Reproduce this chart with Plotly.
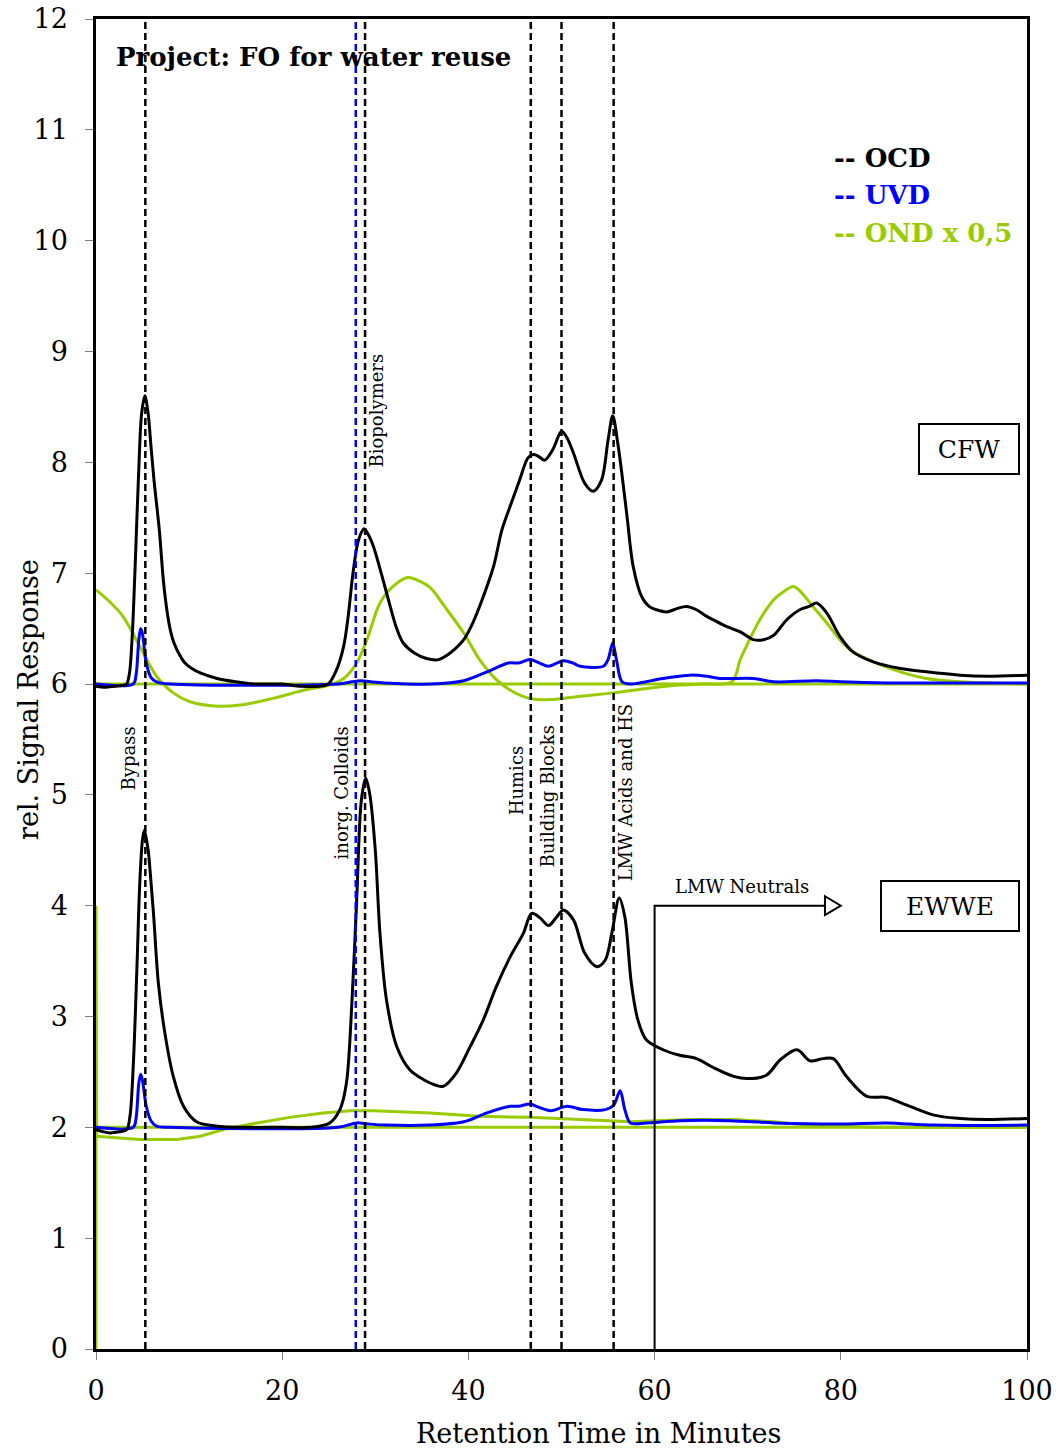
import plotly.graph_objects as go

# ---------------- data (values as plotted: CFW offset +6, EWWE offset +2) ----------------
ocd_cfw = [(0, 5.98), (1, 5.97), (2, 5.98), (3, 5.99), (3.3, 6.0), (3.6, 6.1), (3.9, 6.45), (4.2, 7.05),
           (4.55, 7.84), (4.9, 8.44), (5.25, 8.60), (5.6, 8.44), (5.9, 8.15), (6.23, 7.84), (6.8, 7.39),
           (7.23, 6.94), (7.66, 6.64), (8.0, 6.48), (8.38, 6.37), (9.0, 6.26), (9.56, 6.19), (10.3, 6.14),
           (11.2, 6.10), (13.0, 6.05), (15, 6.02), (17, 6.0), (20, 6.0),
           (22, 5.98), (24, 5.98), (24.95, 6.0), (25.8, 6.12), (26.6, 6.34), (27.1, 6.62), (27.6, 7.0),
           (28.2, 7.3), (28.8, 7.40), (29.3, 7.34), (29.8, 7.24), (30.7, 6.98), (31.6, 6.70), (32.3, 6.50),
           (33.0, 6.37), (34.2, 6.28), (35.5, 6.23), (36.8, 6.22), (37.7, 6.26), (38.6, 6.32), (39.5, 6.40),
           (40.3, 6.52), (41.2, 6.70), (42.7, 7.06), (43.6, 7.39), (44.6, 7.63), (45.5, 7.84), (46.4, 8.04),
           (47.0, 8.07), (47.6, 8.05), (48.2, 8.02), (49.1, 8.12), (50.0, 8.28), (50.6, 8.22), (51.3, 8.08),
           (52.5, 7.81), (53.4, 7.74), (54.3, 7.84), (55.0, 8.20), (55.5, 8.42), (56.1, 8.14), (57.0, 7.54),
           (57.7, 7.06), (58.6, 6.79), (59.4, 6.70), (60.2, 6.67), (61.3, 6.65), (62.4, 6.68), (63.4, 6.70),
           (64.5, 6.67), (65.6, 6.61), (66.3, 6.58), (67.7, 6.52), (69.2, 6.47), (70.6, 6.40), (71.7, 6.40),
           (72.8, 6.44), (74.2, 6.58), (75.6, 6.67), (76.6, 6.70), (77.4, 6.73), (78.5, 6.64), (79.9, 6.43),
           (81.3, 6.29), (83.5, 6.20), (86.4, 6.14), (89.2, 6.11), (92.8, 6.08), (95.7, 6.07), (100, 6.08)]

uvd_cfw = [(0, 6.0), (4.0, 6.0), (4.3, 6.08), (4.6, 6.40), (4.8, 6.50), (5.0, 6.45), (5.4, 6.19), (5.9, 6.06),
           (6.5, 6.02), (8, 6.0), (26, 6.0), (27.5, 6.02), (28.4, 6.03), (29.5, 6.02), (31, 6.01), (36, 6.0),
           (39.5, 6.03), (42, 6.11), (44.3, 6.19), (45.4, 6.19), (46.6, 6.22), (47.6, 6.19), (48.6, 6.16),
           (50.2, 6.21), (51.2, 6.19), (52.0, 6.16), (54.5, 6.16), (55.0, 6.22), (55.5, 6.37), (55.9, 6.22),
           (56.5, 6.02), (57.4, 6.0), (60.9, 6.05), (63.8, 6.08), (65.6, 6.07), (67.0, 6.05), (70.6, 6.05),
           (72.8, 6.02), (77.4, 6.03), (80, 6.02), (85, 6.01), (100, 6.01)]

ond_cfw = [(0, 6.85), (1.5, 6.74), (2.9, 6.61), (4.7, 6.34), (6.5, 6.07), (8.3, 5.92), (10.1, 5.84),
           (13.0, 5.80), (15.5, 5.81), (19.0, 5.87), (22.6, 5.95), (25.1, 5.99), (26.6, 6.05), (28.0, 6.19),
           (29.1, 6.40), (30.5, 6.73), (31.9, 6.88), (33.5, 6.96), (34.7, 6.93), (35.9, 6.87), (37.7, 6.67),
           (39.5, 6.46), (41.2, 6.22), (43.0, 6.04), (44.8, 5.93), (46.6, 5.87), (49.1, 5.86), (52.0, 5.89),
           (55.6, 5.92), (59.2, 5.96), (62.7, 5.99), (65, 6.0), (68.3, 6.02), (69.2, 6.22), (70.2, 6.40),
           (71.3, 6.58), (72.8, 6.76), (73.8, 6.83), (74.9, 6.88), (75.6, 6.84), (77.0, 6.70), (78.5, 6.55),
           (79.9, 6.40), (81.3, 6.29), (83.5, 6.20), (86.4, 6.11), (89.2, 6.05), (92.8, 6.02), (100, 6.0)]

ocd_ewwe = [(0, 1.98), (0.8, 1.96), (1.5, 1.95), (2.5, 1.96), (3.3, 1.98), (3.65, 2.10), (4.0, 2.55),
            (4.4, 3.45), (4.7, 4.20), (5.0, 4.60), (5.2, 4.68), (5.6, 4.50), (5.9, 4.22), (6.2, 3.90), (6.7, 3.30),
            (7.4, 2.85), (8.3, 2.46), (9.4, 2.19), (10.8, 2.05), (13.0, 2.01), (16, 2.0), (20, 2.0), (23, 2.0),
            (25.1, 2.04), (26.2, 2.16), (26.9, 2.40), (27.5, 3.15), (28.0, 4.05), (28.5, 4.95), (28.97, 5.15),
            (29.4, 5.01), (30.0, 4.50), (30.5, 3.75), (31.2, 3.15), (32.3, 2.73), (33.7, 2.52), (35.2, 2.43),
            (36.5, 2.38), (37.3, 2.37), (38.7, 2.49), (40.2, 2.73), (41.6, 2.97), (43.0, 3.27), (44.5, 3.54),
            (45.9, 3.75), (46.8, 3.93), (47.7, 3.89), (48.6, 3.82), (49.5, 3.90), (50.2, 3.96), (51.3, 3.87),
            (52.5, 3.57), (53.8, 3.45), (54.7, 3.51), (55.4, 3.75), (56.2, 4.07), (56.8, 3.90), (57.5, 3.30),
            (58.2, 2.97), (59.1, 2.79), (60.9, 2.70), (62.7, 2.65), (64.5, 2.62), (66.3, 2.54), (68.5, 2.46),
            (69.9, 2.44), (72.0, 2.47), (73.5, 2.61), (75.3, 2.70), (76.7, 2.60), (78.1, 2.62), (79.2, 2.62),
            (80.6, 2.46), (82.8, 2.28), (84.9, 2.27), (87.1, 2.20), (90.0, 2.11), (92.8, 2.08), (95.7, 2.07),
            (100, 2.08)]

uvd_ewwe = [(0, 2.0), (4.0, 2.0), (4.3, 2.08), (4.6, 2.40), (4.8, 2.48), (5.0, 2.42), (5.4, 2.19), (5.9, 2.06),
            (6.5, 2.01), (8, 2.0), (26, 2.0), (28.0, 2.04), (29.2, 2.03), (31, 2.02), (35.9, 2.02), (39.5, 2.05),
            (42, 2.13), (44.5, 2.19), (45.4, 2.19), (46.6, 2.21), (47.6, 2.18), (48.8, 2.15), (50.6, 2.19),
            (52.3, 2.16), (54.7, 2.16), (55.6, 2.20), (56.3, 2.33), (56.8, 2.16), (57.4, 2.04), (59.1, 2.04),
            (62.7, 2.06), (68.1, 2.06), (72.8, 2.04), (79.9, 2.03), (84.9, 2.04), (89.9, 2.02), (100, 2.02)]

ond_ewwe = [(0, 0.0), (0, 4.0), (0.07, 1.92), (4.7, 1.89), (8.7, 1.89), (11.2, 1.92), (13.7, 1.98),
            (17.3, 2.04), (20.8, 2.09), (24.4, 2.13), (27.3, 2.15), (29.8, 2.15), (35.9, 2.13), (41.2, 2.10),
            (46.6, 2.09), (52.0, 2.07), (57.4, 2.05), (63.8, 2.07), (68.5, 2.07), (72.8, 2.05), (76.3, 2.02),
            (83.5, 2.0), (100, 2.0)]

baselines = [6, 2]
fraction_lines_black = [5.3, 28.9, 46.7, 50.0, 55.6]
fraction_lines_blue = [27.9]
fraction_labels = [("Bypass", 3.45, 5.33), ("inorg. Colloids", 26.4, 5.02), ("Biopolymers", 30.1, 8.47),
                   ("Humics", 45.2, 5.13), ("Building Blocks", 48.5, 4.99), ("LMW Acids and HS", 56.9, 5.02)]
lmw_neutral_start = 60
lmw_neutral_end = 80
lmw_neutral_level = 4.0

BLACK = "#000000"
BLUE = "#0000FF"
GREEN = "#99CC00"
FONT = "DejaVu Serif"

fig = go.Figure()

for b in baselines:
    fig.add_trace(go.Scatter(x=[0, 100], y=[b, b], mode="lines",
                             line=dict(color=GREEN, width=3), showlegend=False, hoverinfo="skip"))


def add(series, color, shape="spline"):
    xs = [p[0] for p in series]
    ys = [p[1] for p in series]
    fig.add_trace(go.Scatter(x=xs, y=ys, mode="lines",
                             line=dict(color=color, width=3, shape=shape, smoothing=0.9),
                             showlegend=False))


add(ond_cfw, GREEN)
add(ond_ewwe, GREEN, shape="linear")
add(uvd_cfw, BLUE)
add(uvd_ewwe, BLUE)
add(ocd_cfw, BLACK)
add(ocd_ewwe, BLACK)

shapes = []
for xv in fraction_lines_black:
    shapes.append(dict(type="line", xref="x", yref="y", x0=xv, x1=xv, y0=0, y1=12,
                       line=dict(color=BLACK, width=2.5, dash="7px,4px")))
for xv in fraction_lines_blue:
    shapes.append(dict(type="line", xref="x", yref="y", x0=xv, x1=xv, y0=0, y1=12,
                       line=dict(color=BLUE, width=2.5, dash="7px,4px")))

# LMW Neutrals bracket arrow
shapes.append(dict(type="path", xref="x", yref="y",
                   path=f"M {lmw_neutral_start} 0 L {lmw_neutral_start} {lmw_neutral_level} "
                        f"L {lmw_neutral_end - 1.6} {lmw_neutral_level}",
                   line=dict(color=BLACK, width=2)))
shapes.append(dict(type="path", xref="x", yref="y",
                   path=f"M {lmw_neutral_end - 1.7} {lmw_neutral_level + 0.085} L {lmw_neutral_end} {lmw_neutral_level} "
                        f"L {lmw_neutral_end - 1.7} {lmw_neutral_level - 0.085} Z",
                   line=dict(color=BLACK, width=2), fillcolor="white"))

annotations = []
for text, xv, yv in fraction_labels:
    annotations.append(dict(text=text, x=xv, y=yv, xref="x", yref="y", textangle=-90, showarrow=False,
                            font=dict(family=FONT, size=18, color=BLACK)))

annotations.append(dict(text="LMW Neutrals", x=69.4, y=4.17, xref="x", yref="y", showarrow=False,
                        font=dict(family=FONT, size=18, color=BLACK)))
annotations.append(dict(text="<b>Project: FO for water reuse</b>", x=1.9, y=11.66, xref="x", yref="y",
                        xanchor="left", showarrow=False, font=dict(family=FONT, size=26, color=BLACK)))
for txt, col, yv in [("-- OCD", BLACK, 10.75), ("-- UVD", BLUE, 10.41), ("-- OND x 0,5", GREEN, 10.07)]:
    annotations.append(dict(text=f"<b>{txt}</b>", x=79.05, y=yv, xref="x", yref="y", xanchor="left",
                            showarrow=False, font=dict(family=FONT, size=26, color=col)))
annotations.append(dict(text="CFW", x=93.8, y=8.12, xref="x", yref="y", showarrow=False,
                        width=96, height=46, bordercolor=BLACK, borderwidth=2, borderpad=1, bgcolor="white",
                        font=dict(family=FONT, size=25, color=BLACK)))
annotations.append(dict(text="EWWE", x=91.7, y=4.0, xref="x", yref="y", showarrow=False,
                        width=134, height=46, bordercolor=BLACK, borderwidth=2, borderpad=1, bgcolor="white",
                        font=dict(family=FONT, size=25, color=BLACK)))
# axis titles
annotations.append(dict(text="Retention Time in Minutes", x=(598 - 96) / 931, y=(1349 - 1434) / 1330,
                        xref="paper", yref="paper", xanchor="center", yanchor="middle",
                        showarrow=False, font=dict(family=FONT, size=27, color=BLACK)))
annotations.append(dict(text="rel. Signal Response", x=(28 - 96) / 931, y=(1349 - 700) / 1330,
                        xref="paper", yref="paper", xanchor="center", yanchor="middle",
                        textangle=-90, showarrow=False, font=dict(family=FONT, size=27, color=BLACK)))

fig.update_layout(
    width=1061, height=1451,
    margin=dict(l=96, r=34, t=19, b=102),
    plot_bgcolor="white", paper_bgcolor="white",
    shapes=shapes, annotations=annotations,
    font=dict(family=FONT, size=27, color=BLACK),
    xaxis=dict(range=[0, 100], dtick=20, showgrid=False, zeroline=False, automargin=False,
               showline=True, mirror=True, linecolor=BLACK, linewidth=2.5,
               ticks="outside", ticklen=8, tickwidth=1, tickcolor="#808080",
               ticklabelstandoff=8,
               tickfont=dict(family=FONT, size=27, color=BLACK)),
    yaxis=dict(range=[0, 12], dtick=1, showgrid=False, zeroline=False, automargin=False,
               showline=True, mirror=True, linecolor=BLACK, linewidth=2.5,
               ticks="outside", ticklen=8, tickwidth=1, tickcolor="#808080",
               ticklabelstandoff=12,
               tickfont=dict(family=FONT, size=27, color=BLACK)),
)

fig.write_html("out.html")
